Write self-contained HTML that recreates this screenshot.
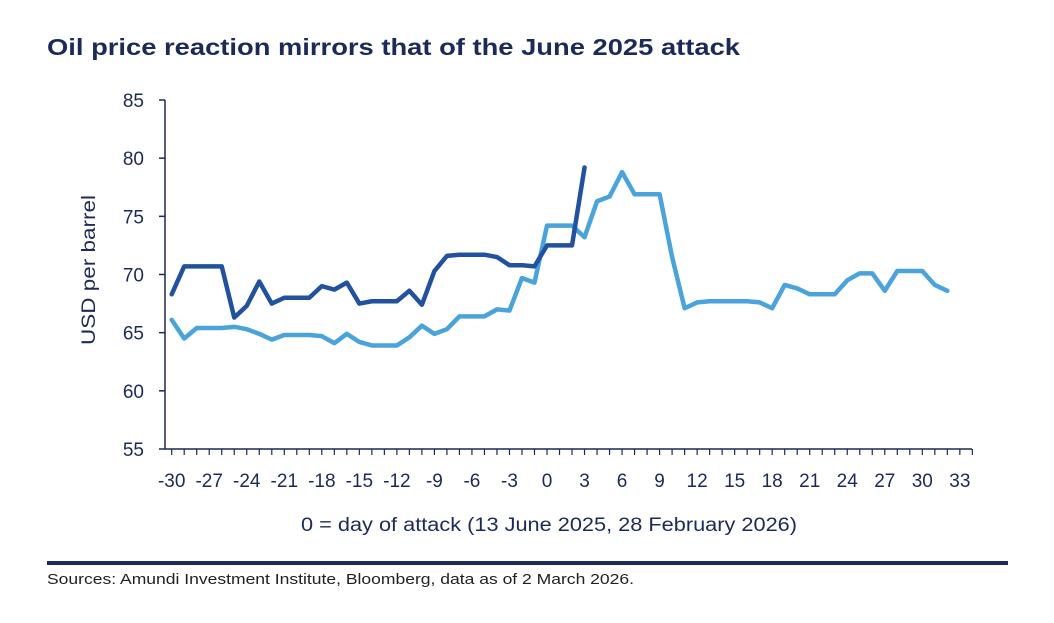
<!DOCTYPE html>
<html><head><meta charset="utf-8"><style>
body{margin:0;background:#fff;font-family:"Liberation Sans",sans-serif;}
</style></head><body>
<svg width="1054" height="618" xmlns="http://www.w3.org/2000/svg">
<text x="47" y="55" font-size="23" font-weight="bold" fill="#1b2a57" textLength="693" lengthAdjust="spacingAndGlyphs">Oil price reaction mirrors that of the June 2025 attack</text>
<g id="axes"></g>
<g id="lines"></g>
<text transform="translate(95,270) rotate(-90)" text-anchor="middle" font-size="19" fill="#1b2a57" textLength="150" lengthAdjust="spacingAndGlyphs">USD per barrel</text>
<text x="549" y="531" text-anchor="middle" font-size="19" fill="#1b2a57" textLength="496" lengthAdjust="spacingAndGlyphs">0 = day of attack (13 June 2025, 28 February 2026)</text>
<rect x="47" y="561" width="961" height="4" fill="#1b2a57"/>
<text x="47" y="584" font-size="14.5" fill="#222" textLength="587" lengthAdjust="spacingAndGlyphs">Sources: Amundi Investment Institute, Bloomberg, data as of 2 March 2026.</text>
</svg>
<script>
const yTicks=[55,60,65,70,75,80,85];
const xTicks=[-30,-27,-24,-21,-18,-15,-12,-9,-6,-3,0,3,6,9,12,15,18,21,24,27,30,33];
const darkStart=-30;
const darkValues=[68.3,70.7,70.7,70.7,70.7,66.3,67.3,69.4,67.5,68.0,68.0,68.0,69.0,68.7,69.3,67.5,67.7,67.7,67.7,68.6,67.4,70.3,71.6,71.7,71.7,71.7,71.5,70.8,70.8,70.7,72.5,72.5,72.5,79.2];
const lightStart=-30;
const lightValues=[66.1,64.5,65.4,65.4,65.4,65.5,65.3,64.9,64.4,64.8,64.8,64.8,64.7,64.1,64.9,64.2,63.9,63.9,63.9,64.6,65.6,64.9,65.3,66.4,66.4,66.4,67.0,66.9,69.7,69.3,74.2,74.2,74.2,73.2,76.3,76.7,78.8,76.9,76.9,76.9,71.5,67.1,67.6,67.7,67.7,67.7,67.7,67.6,67.1,69.1,68.8,68.3,68.3,68.3,69.5,70.1,70.1,68.6,70.3,70.3,70.3,69.1,68.6];
const NS="http://www.w3.org/2000/svg";
const xs=d=>547+d*12.51;
const ys=v=>449-(v-55)*(349/30);
const axes=document.getElementById('axes'),lines=document.getElementById('lines');
function mk(t,a,p){const e=document.createElementNS(NS,t);for(const k in a)e.setAttribute(k,a[k]);p.appendChild(e);return e;}
const ya=mk('line',{x1:165,y1:100,x2:165,y2:449,stroke:'#1b2a57','stroke-width':1.5},axes);


const xa=mk('line',{x1:165,y1:449,x2:972,y2:449,stroke:'#1b2a57','stroke-width':1.5},axes);


yTicks.forEach(v=>{
 mk('line',{x1:159,y1:ys(v),x2:165,y2:ys(v),stroke:'#1b2a57','stroke-width':1.5},axes);
 const t=mk('text',{x:144,y:ys(v)+7,'text-anchor':'end','font-size':19,fill:'#1b2a57'},axes);t.textContent=v;
 
 
});
for(let d=-30;d<=34;d++){mk('line',{x1:xs(d),y1:449,x2:xs(d),y2:455,stroke:'#1b2a57','stroke-width':1.2},axes);}
xTicks.forEach(d=>{
 const t=mk('text',{x:xs(d),y:487,'text-anchor':'middle','font-size':19,fill:'#1b2a57'},axes);t.textContent=d;
 
 
});
function path(start,vals,color,name){
 const p=mk('polyline',{points:vals.map((v,i)=>xs(start+i)+','+ys(v)).join(' '),fill:'none',stroke:color,'stroke-width':4.5,'stroke-linejoin':'round','stroke-linecap':'round'},lines);
 
 
}
path(lightStart,lightValues,'#4ba3dc','line-june-2025');
path(darkStart,darkValues,'#22529e','line-feb-2026');
</script>
</body></html>
